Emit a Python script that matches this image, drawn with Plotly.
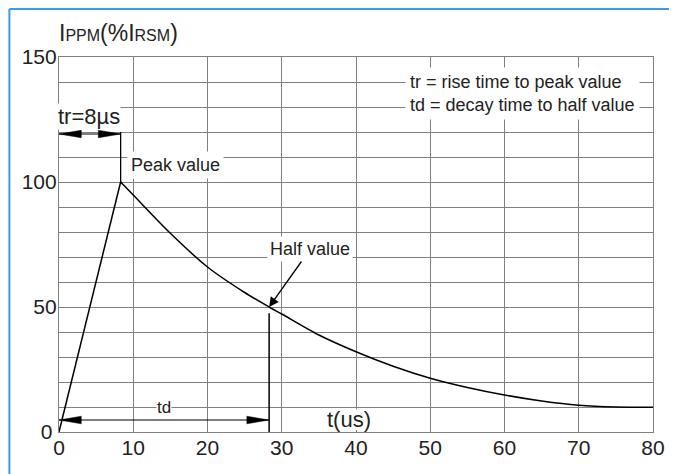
import plotly.graph_objects as go

# ---- data ----
t_rise = [0, 8.3]
i_rise = [0, 100]
t_decay = [8.3, 10, 15, 20, 25, 28.3, 30, 35, 40, 45, 50, 55, 60, 65, 70, 75, 80]
i_decay = [100, 94.8, 79.5, 66, 55.8, 50, 47.2, 38.8, 32.1, 26.3, 21.5, 17.8, 14.8, 12.4, 10.7, 10.0, 9.9]

TR = 8.3          # rise time marker (us)
TD = 28.3         # decay-to-half marker (us)
PEAK = 100
HALF = 50
TR_ARROW_Y = 119.2
TD_ARROW_Y = 4.8

x_ticks = [0, 10, 20, 30, 40, 50, 60, 70, 80]
y_ticks = [0, 50, 100, 150]
y_tick_labels = ["0\u2009", "50", "100", "150"]

FONT = "Liberation Sans, Arial, sans-serif"
GRID = "#808080"
TXT = "#222222"

fig = go.Figure()
fig.add_trace(go.Scatter(x=t_rise, y=i_rise, mode="lines",
                         line=dict(color="black", width=1.5), hoverinfo="skip"))
fig.add_trace(go.Scatter(x=t_decay, y=i_decay, mode="lines",
                         line=dict(color="black", width=1.5, shape="spline", smoothing=0.8),
                         hoverinfo="skip"))

shapes = []
# dimension lines
shapes.append(dict(type="line", x0=TR, x1=TR, y0=PEAK, y1=120, line=dict(color="black", width=1.3)))
shapes.append(dict(type="line", x0=0, x1=TR, y0=TR_ARROW_Y, y1=TR_ARROW_Y, line=dict(color="black", width=1.2)))
shapes.append(dict(type="line", x0=TD, x1=TD, y0=0, y1=HALF - 2.5, line=dict(color="black", width=1.5)))
shapes.append(dict(type="line", x0=0, x1=TD, y0=TD_ARROW_Y, y1=TD_ARROW_Y, line=dict(color="black", width=1.2)))

AL, AH = 3.0, 1.5  # arrowhead length (x units) and half height (y units)

def head(tip_x, y, direction):
    bx = tip_x - direction * AL
    return dict(type="path",
                path=f"M {tip_x},{y} L {bx},{y + AH} L {bx},{y - AH} Z",
                fillcolor="black", line=dict(color="black", width=0.5))

shapes += [head(0, TR_ARROW_Y, -1), head(TR, TR_ARROW_Y, 1),
           head(0, TD_ARROW_Y, -1), head(TD, TD_ARROW_Y, 1)]

# white patch hiding grid behind "t(us)"
shapes.append(dict(type="rect", x0=38.8, x1=41.2, y0=0.8, y1=9.0, layer="between",
                   fillcolor="white", line=dict(width=0)))

# blue frame (top & left edges of the image)
BLUE = "#3d9be9"
shapes.append(dict(type="line", xref="paper", yref="paper", x0=-0.0835, x1=1.1,
                   y0=1.128, y1=1.128, line=dict(color=BLUE, width=2)))
shapes.append(dict(type="line", xref="paper", yref="paper", x0=-0.0835, x1=-0.0835,
                   y0=1.128, y1=-0.2, line=dict(color=BLUE, width=2)))

annotations = [
    dict(text="I<span style='font-size:16px'>PPM</span>(%I<span style='font-size:16px'>RSM</span>)",
         xref="paper", yref="paper", x=-0.004, y=1.064, xanchor="left", yanchor="middle",
         showarrow=False, font=dict(size=23, color=TXT, family=FONT)),
    dict(text="tr=8µs", x=0, xshift=-2, y=126.4, xanchor="left", yanchor="middle",
         showarrow=False, bgcolor="white", borderpad=0,
         font=dict(size=22, color=TXT, family=FONT)),
    dict(text="Peak value", x=15.72, y=106.8, xanchor="center", yanchor="middle",
         showarrow=False, bgcolor="white", borderpad=3,
         font=dict(size=18, color=TXT, family=FONT)),
    dict(text="Half value", x=TD, y=HALF, ax=33.85, ay=73.2, axref="x", ayref="y",
         showarrow=True, arrowhead=2, arrowsize=1.5, arrowwidth=1.3, arrowcolor="black",
         bgcolor="white", borderpad=2,
         font=dict(size=18, color=TXT, family=FONT)),
    dict(text="td", x=14.2, y=9.8, xanchor="center", yanchor="middle",
         showarrow=False, bgcolor="white", borderpad=0,
         font=dict(size=17, color=TXT, family=FONT)),
    dict(text="t(us)", x=39.1, y=5.2, xanchor="center", yanchor="middle",
         showarrow=False, font=dict(size=22, color=TXT, family=FONT)),
    dict(text="tr = rise time to peak value<br>td = decay time to half value",
         x=46.6, y=135.6, xanchor="left", yanchor="middle", align="left",
         showarrow=False, bgcolor="white", borderpad=4,
         font=dict(size=18, color=TXT, family=FONT)),
]

axis_common = dict(showgrid=True, gridcolor=GRID, gridwidth=1.2, showline=True,
                   linecolor=GRID, linewidth=1.2, mirror=True, zeroline=False,
                   ticks="", tickfont=dict(size=21, color=TXT, family=FONT),
                   fixedrange=True)

# the page adds an 8px body margin, so the figure is sized and offset for it
fig.update_layout(
    width=669, height=466,
    margin=dict(l=51, r=19, t=49, b=42),
    paper_bgcolor="white", plot_bgcolor="white",
    showlegend=False,
    font=dict(family=FONT, color=TXT),
    xaxis=dict(range=[0, 80], tickvals=x_ticks, ticklabelstandoff=-3, **axis_common),
    yaxis=dict(range=[0, 150], tickvals=y_ticks, ticktext=y_tick_labels, ticklabelstandoff=-3,
               minor=dict(dtick=10, showgrid=True, gridcolor=GRID, gridwidth=1.2),
               **axis_common),
    shapes=shapes,
    annotations=annotations,
)

fig.write_html("out.html")
